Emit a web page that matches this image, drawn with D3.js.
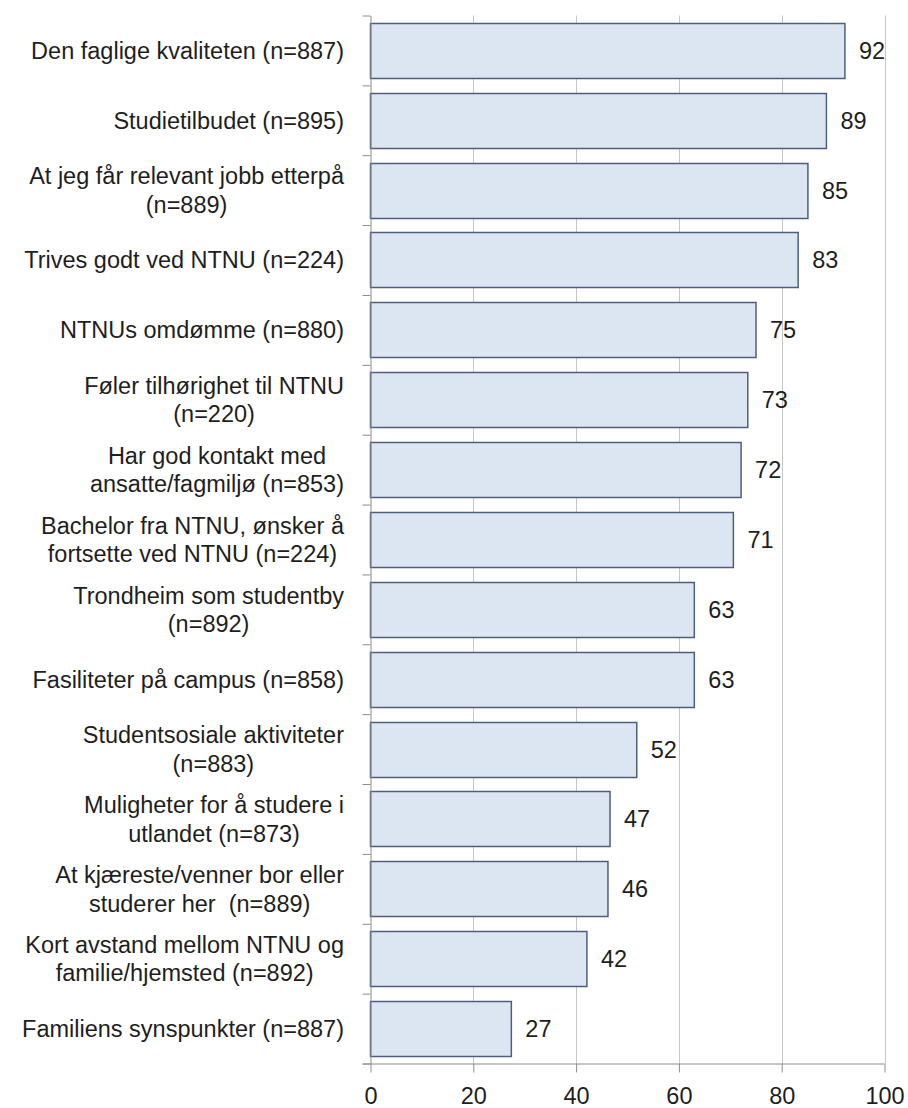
<!DOCTYPE html>
<html>
<head>
<meta charset="utf-8">
<script src="https://cdn.jsdelivr.net/npm/d3@7"></script>
<style>
  html, body { margin: 0; padding: 0; background: #fff; }
  svg { display: block; }
  text { font-family: "Liberation Sans", Arial, sans-serif; fill: #1e1e1e; white-space: pre; }
</style>
</head>
<body>
<svg id="chart" width="908" height="1108"></svg>
<script>
const categories = [
  ["Den faglige kvaliteten (n=887)"],
  ["Studietilbudet (n=895)"],
  ["At jeg får relevant jobb etterpå", "(n=889)"],
  ["Trives godt ved NTNU (n=224)"],
  ["NTNUs omdømme (n=880)"],
  ["Føler tilhørighet til NTNU", "(n=220)"],
  ["Har god kontakt med", "ansatte/fagmiljø (n=853)"],
  ["Bachelor fra NTNU, ønsker å", "fortsette ved NTNU (n=224)"],
  ["Trondheim som studentby", "(n=892)"],
  ["Fasiliteter på campus (n=858)"],
  ["Studentsosiale aktiviteter", "(n=883)"],
  ["Muligheter for å studere i", "utlandet (n=873)"],
  ["At kjæreste/venner bor eller", "studerer her  (n=889)"],
  ["Kort avstand mellom NTNU og", "familie/hjemsted (n=892)"],
  ["Familiens synspunkter (n=887)"]
];
const values = [92.3, 88.7, 85.1, 83.2, 75.0, 73.4, 72.1, 70.6, 63.0, 63.0, 51.8, 46.6, 46.2, 42.1, 27.4];
const valueLabels = ["92", "89", "85", "83", "75", "73", "72", "71", "63", "63", "52", "47", "46", "42", "27"];
const xTicks = [0, 20, 40, 60, 80, 100];

(function () {
const svg = d3.select("#chart");
const mLeft = 370.5, mRight = 884.5, mTop = 15.5, mBottom = 1063.5;
const fontSize = 23.5;

const x = d3.scaleLinear().domain([0, 100]).range([mLeft, mRight]);
const y = d3.scaleBand().domain(d3.range(categories.length)).range([mTop, mBottom]).paddingInner(0.21).paddingOuter(0.105);

// gridlines
svg.append("g").selectAll("line").data(xTicks.filter(d => d > 0)).join("line")
  .attr("x1", d => Math.round(x(d)) + 0.5).attr("x2", d => Math.round(x(d)) + 0.5)
  .attr("y1", mTop).attr("y2", mBottom)
  .attr("stroke", "#c6c6c6").attr("stroke-width", 1);

// bars
svg.append("g").selectAll("rect").data(values).join("rect")
  .attr("x", x(0))
  .attr("y", (d, i) => Math.round(y(i)) + 0.5)
  .attr("width", d => x(d) - x(0))
  .attr("height", Math.round(y.bandwidth()))
  .attr("fill", "#dce6f2")
  .attr("stroke", "#4e5f7d")
  .attr("stroke-width", 1.5);

// value labels
svg.append("g").selectAll("text").data(values).join("text")
  .attr("x", d => x(d) + 14)
  .attr("y", (d, i) => y(i) + y.bandwidth() / 2)
  .attr("dy", "0.36em")
  .attr("font-size", fontSize)
  .text((d, i) => valueLabels[i]);

// y axis
const yAxisScale = d3.scaleLinear().domain([0, categories.length]).range([mTop, mBottom]);
const yAxis = d3.axisLeft(yAxisScale).tickValues(d3.range(categories.length + 1)).tickSize(8).tickFormat("").tickSizeOuter(0);
const ga = svg.append("g").attr("transform", `translate(${mLeft},0)`).call(yAxis);
ga.selectAll("line, path").attr("stroke", "#8c8c8c");

// category labels
const labelRight = 344;
const lineH = 28.5;
const lg = svg.append("g");
categories.forEach((lines, i) => {
  const cy = y(i) + y.bandwidth() / 2;
  const t = lg.append("text").attr("font-size", fontSize).attr("text-anchor", "middle");
  const n = lines.length;
  lines.forEach((s, j) => {
    t.append("tspan").attr("x", 0).attr("y", cy + (j - (n - 1) / 2) * lineH).attr("dy", "0.36em").text(s);
  });
  let w = 0;
  t.selectAll("tspan").each(function () { w = Math.max(w, this.getComputedTextLength()); });
  t.selectAll("tspan").attr("x", labelRight - w / 2);
});

// x axis
const xAxis = d3.axisBottom(x).tickValues(xTicks).tickSize(9).tickSizeOuter(0).tickPadding(15);
const gx = svg.append("g").attr("transform", `translate(0,${mBottom})`).call(xAxis);
gx.select("path").attr("d", `M${mLeft - 8},0.5H${mRight}`).attr("stroke", "#8c8c8c");
gx.selectAll("line").attr("stroke", "#8c8c8c");
gx.selectAll("text").attr("font-size", fontSize).attr("font-family", "Liberation Sans, Arial, sans-serif").attr("fill", "#1e1e1e");
})();
</script>
</body>
</html>
